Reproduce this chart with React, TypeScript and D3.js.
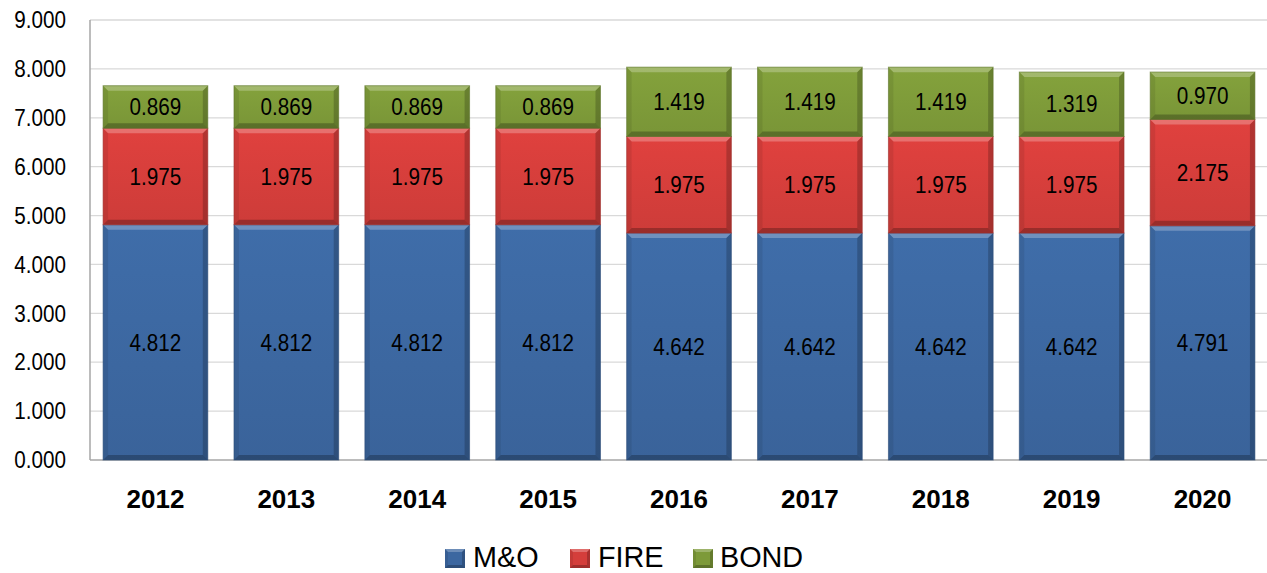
import * as d3 from "d3";

const years = ["2012", "2013", "2014", "2015", "2016", "2017", "2018", "2019", "2020"];
const mo = [4.812, 4.812, 4.812, 4.812, 4.642, 4.642, 4.642, 4.642, 4.791];
const fire = [1.975, 1.975, 1.975, 1.975, 1.975, 1.975, 1.975, 1.975, 2.175];
const bond = [0.869, 0.869, 0.869, 0.869, 1.419, 1.419, 1.419, 1.319, 0.97];
const seriesNames = ["M&O", "FIRE", "BOND"];
const yTicks = [0, 1, 2, 3, 4, 5, 6, 7, 8, 9];

const COLORS = ["#3c67a0", "#d43e3b", "#7d9a39"];
const FONT = "'Liberation Sans', Arial, sans-serif";

const W = 1267;
const H = 573;
const plot = { left: 90, right: 1268, top: 20, bottom: 460 };

function bevel(x0: number, y0: number, x1: number, y1: number, b: number) {
  const pts = (p: number[][]) => p.map((q) => q.join(",")).join(" ");
  return [
    { p: pts([[x0, y0], [x1, y0], [x1 - b, y0 + b], [x0 + b, y0 + b]]), fill: "#fff", op: 0.25 },
    { p: pts([[x0, y1], [x1, y1], [x1 - b, y1 - b], [x0 + b, y1 - b]]), fill: "#000", op: 0.25 },
    { p: pts([[x0, y0], [x0 + b, y0 + b], [x0 + b, y1 - b], [x0, y1]]), fill: "#000", op: 0.08 },
    { p: pts([[x1, y0], [x1 - b, y0 + b], [x1 - b, y1 - b], [x1, y1]]), fill: "#000", op: 0.2 },
  ];
}

// narrow text: scale horizontally around the anchor
function NText(props: { x: number; y: number; size: number; sx?: number; anchor?: string; bold?: boolean; children: string }) {
  const { x, y, size, sx = 0.88, anchor = "middle", bold = false, children } = props;
  return (
    <text
      transform={`translate(${x},${y}) scale(${sx},1)`}
      dy="0.35em"
      textAnchor={anchor}
      fontFamily={FONT}
      fontWeight={bold ? "bold" : "normal"}
      fontSize={size}
      fill="#000"
    >
      {children}
    </text>
  );
}

export default function App() {
  const x = d3.scaleBand<string>().domain(years).range([plot.left, plot.right]).paddingInner(0.2).paddingOuter(0.1);
  const y = d3.scaleLinear().domain([0, 9]).range([plot.bottom, plot.top]);

  const table = years.map((yr, i) => ({ year: yr, mo: mo[i], fire: fire[i], bond: bond[i] }));
  const stacked = d3.stack<{ year: string; mo: number; fire: number; bond: number }>().keys(["mo", "fire", "bond"])(table);

  const legendItems = [
    { name: seriesNames[0], x: 445, tx: 473 },
    { name: seriesNames[1], x: 570, tx: 598 },
    { name: seriesNames[2], x: 693, tx: 720 },
  ];

  return (
    <svg width={W} height={H} style={{ position: "absolute", left: 0, top: 0, background: "#fff" }}>
      <defs>
        {COLORS.map((c, i) => (
          <linearGradient key={i} id={`g${i}`} x1="0" y1="0" x2="0" y2="1">
            <stop offset="0" stopColor={d3.color(c)!.brighter(0.15).toString()} />
            <stop offset="1" stopColor={d3.color(c)!.darker(0.1).toString()} />
          </linearGradient>
        ))}
      </defs>
      {yTicks.map((t) => (
        <g key={t}>
          {t > 0 && <line x1={plot.left} x2={W} y1={y(t)} y2={y(t)} stroke="#d9d9d9" strokeWidth={1.3} />}
          <NText x={66} y={y(t)} size={23.5} anchor="end">
            {t.toFixed(3)}
          </NText>
        </g>
      ))}
      <line x1={plot.left} x2={plot.left} y1={plot.top} y2={plot.bottom} stroke="#a6a6a6" strokeWidth={1.5} />
      <line x1={plot.left} x2={W} y1={plot.bottom} y2={plot.bottom} stroke="#a6a6a6" strokeWidth={1.5} />
      {stacked.map((s, si) =>
        s.map((d, i) => {
          const x0 = x(d.data.year)!;
          const x1 = x0 + x.bandwidth();
          const y0 = y(d[1]);
          const y1 = y(d[0]);
          const v = d[1] - d[0];
          return (
            <g key={`${si}-${i}`}>
              <rect x={x0} y={y0} width={x1 - x0} height={y1 - y0} fill={`url(#g${si})`} />
              {bevel(x0, y0, x1, y1, 5).map((b, k) => (
                <polygon key={k} points={b.p} fill={b.fill} fillOpacity={b.op} />
              ))}
              <rect x={x0} y={y0} width={x1 - x0} height={y1 - y0} fill="none" stroke={d3.color(COLORS[si])!.darker(0.8).toString()} strokeOpacity={0.6} strokeWidth={1} />
              <NText x={(x0 + x1) / 2} y={(y0 + y1) / 2} size={23.5}>
                {v.toFixed(3)}
              </NText>
            </g>
          );
        })
      )}
      {years.map((yr) => (
        <NText key={yr} x={x(yr)! + x.bandwidth() / 2} y={499} size={26} sx={1} bold>
          {yr}
        </NText>
      ))}
      {legendItems.map((l, i) => (
        <g key={l.name}>
          <rect x={l.x} y={549} width={20} height={19} fill={COLORS[i]} />
          {bevel(l.x, 549, l.x + 20, 568, 3).map((b, k) => (
            <polygon key={k} points={b.p} fill={b.fill} fillOpacity={b.op} />
          ))}
          <text x={l.tx} y={567} fontFamily={FONT} fontSize={30} fill="#000" transform={`translate(${l.tx * 0.04},0) scale(0.96,1)`}>
            {l.name}
          </text>
        </g>
      ))}
    </svg>
  );
}
